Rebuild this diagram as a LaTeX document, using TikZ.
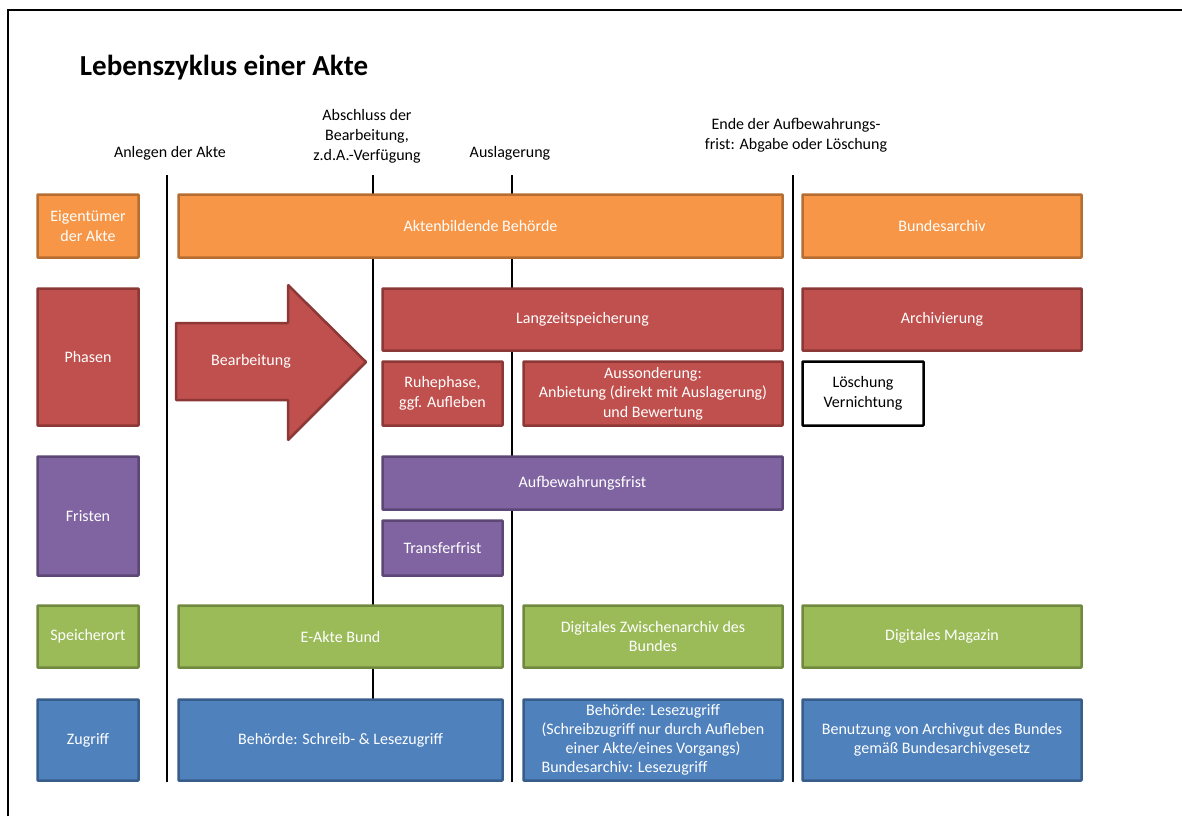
\documentclass[tikz,border=0pt]{standalone}
\usepackage{fontspec}
\setmainfont{Carlito}
\usetikzlibrary{positioning}

\definecolor{orFill}{RGB}{247,150,70}
\definecolor{orDraw}{RGB}{182,109,49}
\definecolor{rdFill}{RGB}{192,80,77}
\definecolor{rdDraw}{RGB}{140,56,54}
\definecolor{puFill}{RGB}{128,100,162}
\definecolor{puDraw}{RGB}{92,71,118}
\definecolor{grFill}{RGB}{155,187,89}
\definecolor{grDraw}{RGB}{113,137,63}
\definecolor{blFill}{RGB}{79,129,189}
\definecolor{blDraw}{RGB}{56,93,138}

\tikzset{
  lcbox/.style={draw, line width=2.5pt, inner sep=2pt, align=center, text=white,
    font=\fontsize{16}{19.5}\selectfont, rounded corners=0.6pt},
  wh/.style 2 args={minimum width=#1, minimum height=#2},
  ownerbox/.style={lcbox, fill=orFill, draw=orDraw},
  phasebox/.style={lcbox, fill=rdFill, draw=rdDraw},
  fristbox/.style={lcbox, fill=puFill, draw=puDraw},
  ortbox/.style={lcbox, fill=grFill, draw=grDraw},
  zugriffbox/.style={lcbox, fill=blFill, draw=blDraw},
  endbox/.style={lcbox, fill=white, draw=black, text=black},
  eventlabel/.style={align=center, inner sep=0pt, font=\fontsize{16}{20}\selectfont},
  timeline/.style={line width=2pt}
}

\begin{document}
\begin{tikzpicture}[x=1pt, y=-1pt]
\useasboundingbox (0,0) rectangle (1182,816);

% frame
\draw[line width=2pt] (8,816) -- (8,10) -- (1182,10);

\node[inner sep=0pt, font=\fontsize{29}{34}\selectfont\bfseries] (title) at (224,68) {Lebenszyklus einer Akte};

% Zeitpunkte
\node[eventlabel] (anlegen) at (170,153) {Anlegen der Akte};
\node[eventlabel] (abschluss) at (367,136) {Abschluss der\\Bearbeitung,\\z.d.A.-Verfügung};
\node[eventlabel] (auslagerung) at (510,153) {Auslagerung};
\node[eventlabel] (ende) at (796,135) {Ende der Aufbewahrungs-\\frist: Abgabe oder Löschung};

\coordinate (anlegenTop) at (167,175);   \coordinate (anlegenBot) at (167,782);
\coordinate (abschlussTop) at (373,175); \coordinate (abschlussBot) at (373,700);
\coordinate (auslagTop) at (512,175);    \coordinate (auslagBot) at (512,782);
\coordinate (endeTop) at (793,175);      \coordinate (endeBot) at (793,782);

\draw[timeline] (anlegenTop) -- (anlegenBot);
\draw[timeline] (abschlussTop) -- (abschlussBot);
\draw[timeline] (auslagTop) -- (auslagBot);
\draw[timeline] (endeTop) -- (endeBot);

% Eigentuemer
\node[ownerbox, wh={101}{63}] (eigentuemer) at (88,226) {Eigentümer\\der Akte};
\node[ownerbox, wh={604}{63}] (behoerde) at (480.5,226) {Aktenbildende Behörde};
\node[ownerbox, wh={279}{63}] (bundesarchiv) at (942,226) {Bundesarchiv};

% Phasen
\node[phasebox, wh={101}{137}] (phasen) at (88,357) {Phasen};
\draw[phasebox] (176,323) -- (288,323) -- (288,285) -- (366,362) -- (288,440) -- (288,400) -- (176,400) -- cycle;
\node[eventlabel, text=white] (bearbeitung) at (251,361) {Bearbeitung};
\node[phasebox, wh={400}{62}] (langzeit) at (582.5,319.5) {Langzeitspeicherung};
\node[phasebox, wh={279}{62}] (archivierung) at (942,319.5) {Archivierung};
\node[phasebox, wh={120}{64}] (ruhephase) at (442.5,393.5) {Ruhephase,\\ggf. Aufleben};
\node[phasebox, wh={259}{64}] (aussonderung) at (653,393.5) {Aussonderung:\\Anbietung (direkt mit Auslagerung)\\und Bewertung};
\node[endbox, wh={121}{64}] (loeschung) at (863,393.5) {Löschung\\Vernichtung};

% Fristen
\node[fristbox, wh={101}{119}] (fristen) at (88,516) {Fristen};
\node[fristbox, wh={400}{53}] (aufbewahrung) at (582.5,483) {Aufbewahrungsfrist};
\node[fristbox, wh={120}{55}] (transfer) at (442.5,548) {Transferfrist};

% Speicherort
\node[ortbox, wh={101}{62}] (speicherort) at (88,636.5) {Speicherort};
\node[ortbox, wh={324}{62}] (eakte) at (340.5,636.5) {E-Akte Bund};
\node[ortbox, wh={259}{62}] (zwischenarchiv) at (653,636.5) {Digitales Zwischenarchiv des\\Bundes};
\node[ortbox, wh={279}{62}] (magazin) at (942,636.5) {Digitales Magazin};

% Zugriff
\node[zugriffbox, wh={101}{81}] (zugriff) at (88,740) {Zugriff};
\node[zugriffbox, wh={324}{81}] (schreibzugriff) at (340.5,740) {Behörde: Schreib- \& Lesezugriff};
\node[zugriffbox, wh={259}{81}] (lesezugriff) at (653,740)
  {\renewcommand{\arraystretch}{0.98}\begin{tabular}{@{}c@{}}Behörde: Lesezugriff\\(Schreibzugriff nur durch Aufleben\\einer Akte/eines Vorgangs)\\\multicolumn{1}{@{}l@{}}{Bundesarchiv: Lesezugriff}\end{tabular}};
\node[zugriffbox, wh={279}{81}] (benutzung) at (942,740) {Benutzung von Archivgut des Bundes\\gemäß Bundesarchivgesetz};

\end{tikzpicture}
\end{document}
